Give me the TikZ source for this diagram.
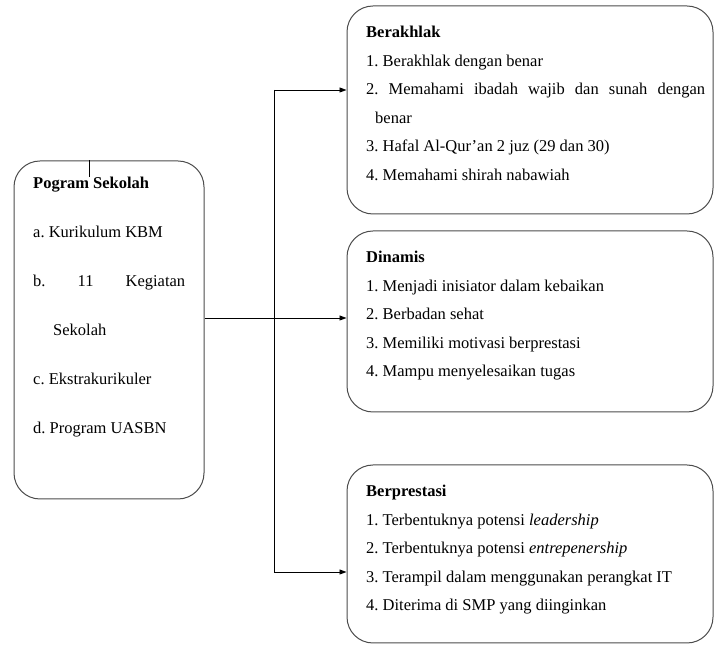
\documentclass[tikz,border=0pt]{standalone}
\usepackage{fontspec}
\setmainfont{Liberation Serif}
\usetikzlibrary{arrows.meta}
\frenchspacing
\tikzstyle{box}=[rectangle,rounded corners=26pt,draw=black!70,
  line width=1pt,minimum width=366pt]
\tikzstyle{txt}=[anchor=north west,inner sep=0pt,align=justify,
  text width=339pt,font=\fontsize{16.5}{28.5}\selectfont]
\tikzstyle{link}=[line width=0.9pt]
\tikzstyle{arr}=[link,-{Triangle[length=7pt,width=5pt]}]
\tikzstyle{none}=[]

\begin{document}
\begin{tikzpicture}[x=1pt,y=1pt]
		\useasboundingbox (0,0) rectangle (715,645);
		\node [style=box,minimum width=190pt,minimum height=338pt] (0) at (109, 315) {};
		\node [style=box,minimum height=208pt] (1) at (530, 535) {};
		\node [style=box,minimum height=181pt] (2) at (530, 323.5) {};
		\node [style=box,minimum height=178pt] (3) at (530, 91) {};
		\node [style=none] (4) at (274, 555) {};
		\node [style=none] (5) at (274, 327) {};
		\node [style=none] (6) at (274, 73) {};
		\node [style=none] (7) at (89, 468) {};
		\node [style=txt,text width=152pt,font=\fontsize{16.5}{49}\selectfont] (8) at (33, 468) {\textbf{Pogram Sekolah}\\
			a. Kurikulum KBM\\
			b. 11 Kegiatan\linebreak\hspace*{20pt}Sekolah\\
			c. Ekstrakurikuler\\
			d. Program UASBN};
		\node [style=txt] (9) at (366, 619) {\textbf{Berakhlak}\\
			1. Berakhlak dengan benar\\
			2. Memahami ibadah wajib dan sunah dengan\linebreak\hspace*{9pt}benar\\
			3. Hafal Al-Qur’an 2 juz (29 dan 30)\\
			4. Memahami shirah nabawiah};
		\node [style=txt] (10) at (366, 394) {\textbf{Dinamis}\\
			1. Menjadi inisiator dalam kebaikan\\
			2. Berbadan sehat\\
			3. Memiliki motivasi berprestasi\\
			4. Mampu menyelesaikan tugas};
		\node [style=txt] (11) at (366, 160) {\textbf{Berprestasi}\\
			1. Terbentuknya potensi \textit{leadership}\\
			2. Terbentuknya potensi \textit{entrepenership}\\
			3. Terampil dalam menggunakan perangkat IT\\
			4. Diterima di SMP yang diinginkan};
		\draw [style=link] (0.north -| 7.center) to (7.center);
		\draw [style=link] (4.center) to (6.center);
		\draw [style=arr] (0.east |- 5.center) to (2.west |- 5.center);
		\draw [style=arr] (4.center) to (1.west |- 4.center);
		\draw [style=arr] (6.center) to (3.west |- 6.center);
\end{tikzpicture}
\end{document}
